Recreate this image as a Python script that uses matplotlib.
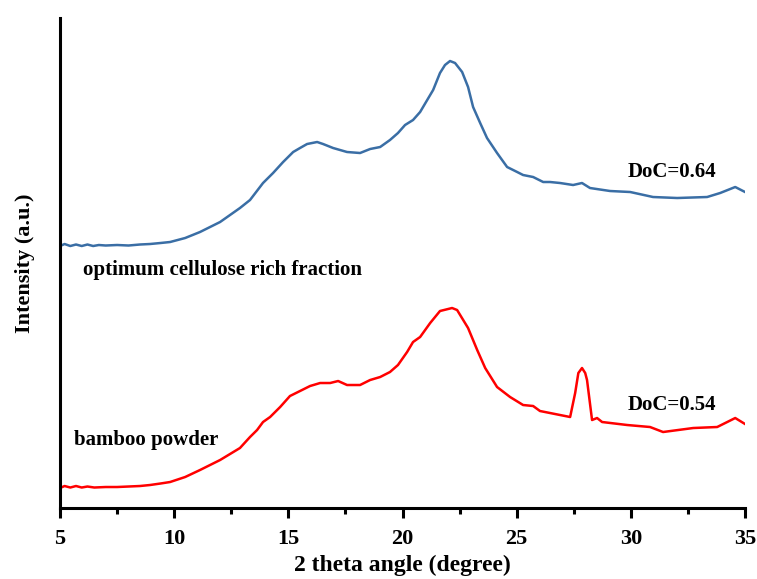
#!/usr/bin/env python3
"""
Plot XRD patterns of bamboo powder and the optimum cellulose rich fraction.

The two patterns are stacked (offset) on one intensity axis and labelled
with their degree of crystallinity (DoC).
"""

import matplotlib
matplotlib.use('Agg')
import matplotlib.pyplot as plt
from matplotlib.ticker import MultipleLocator

# Optimum cellulose rich fraction (offset pattern, a.u.)
cellulose_theta = [5.0, 5.2, 5.45, 5.7, 5.95, 6.2, 6.45, 6.7, 7.0, 7.5, 8.0, 8.5,
                   8.94, 9.4, 9.82, 10.48, 11.13, 12.01, 12.88, 13.32, 13.89,
                   14.33, 14.77, 15.21, 15.51, 15.82, 16.26, 16.52, 16.96, 17.57,
                   18.14, 18.58, 19.02, 19.45, 19.8, 20.11, 20.46, 20.77, 21.08,
                   21.34, 21.64, 21.86, 22.08, 22.3, 22.61, 22.87, 23.09, 23.4,
                   23.7, 24.14, 24.58, 25.02, 25.28, 25.72, 26.16, 26.46, 26.9,
                   27.47, 27.86, 28.21, 29.09, 29.97, 30.97, 32.03, 33.34, 33.91,
                   34.57, 35.0]
cellulose_intensity = [262, 264, 262, 263.5, 262, 263.5, 262, 263, 262.5, 263,
                       262.5, 263.5, 264, 265, 266, 270, 276, 286, 300, 308, 325,
                       335, 346, 356, 360, 364, 366, 364, 360, 356, 355, 359, 361,
                       368, 375, 383, 388, 396, 408, 418, 435, 443, 447, 445, 436,
                       421, 401, 385, 370, 355, 341, 336, 333, 331, 326, 326, 325,
                       323, 325, 320, 317, 316, 311, 310, 311, 315, 321, 316]

# Raw bamboo powder
bamboo_theta = [5.0, 5.2, 5.45, 5.7, 5.95, 6.2, 6.5, 7.0, 7.5, 8.0, 8.5, 8.94,
                9.4, 9.82, 10.48, 11.13, 12.01, 12.88, 13.32, 13.63, 13.89, 14.2,
                14.64, 15.07, 15.51, 15.95, 16.39, 16.83, 17.18, 17.57, 18.14,
                18.58, 19.02, 19.45, 19.8, 20.2, 20.46, 20.77, 21.21, 21.64,
                22.17, 22.39, 22.87, 23.27, 23.62, 24.14, 24.71, 25.28, 25.72,
                26.02, 26.46, 26.9, 27.34, 27.56, 27.7, 27.86, 28.0, 28.08, 28.3,
                28.52, 28.74, 29.84, 30.84, 31.41, 32.73, 33.78, 34.22, 34.57,
                35.0]
bamboo_intensity = [20, 22, 20.5, 22, 20.5, 21.5, 20.5, 21, 21, 21.5, 22, 23,
                    24.5, 26, 31, 38, 48, 60, 71, 78, 86, 91, 101, 112, 117, 122,
                    125, 125, 127, 123, 123, 128, 131, 136, 143, 156, 166, 171,
                    185, 197, 200, 198, 180, 158, 140, 121, 111, 103, 102, 97, 95,
                    93, 91, 115, 135, 140, 135, 128, 88, 90, 86, 83, 81, 76, 80,
                    81, 86, 90, 84]

curve_labels = ['optimum cellulose rich fraction', 'bamboo powder']
doc_labels = ['DoC=0.64', 'DoC=0.54']

x_ticks = [5, 10, 15, 20, 25, 30, 35]


def plot_xrd(output_file='out.png'):
    plt.rcParams['font.family'] = ['Liberation Serif', 'DejaVu Serif']
    plt.rcParams['font.weight'] = 'bold'

    fig = plt.figure(figsize=(7.57, 5.79), dpi=100)
    ax = fig.add_axes([0.0793, 0.1226, 0.9049, 0.8463])

    ax.plot(cellulose_theta, cellulose_intensity, color='#3a6ea5', linewidth=1.8,
            solid_joinstyle='round')
    ax.plot(bamboo_theta, bamboo_intensity, color='#ff0000', linewidth=1.8,
            solid_joinstyle='round')

    # Sample names and crystallinity labels
    ax.text(6.0, 238, curve_labels[0], fontsize=15, fontweight='bold', va='center')
    ax.text(5.6, 68, curve_labels[1], fontsize=15, fontweight='bold', va='center')
    ax.text(29.85, 336, doc_labels[0], fontsize=15, fontweight='bold', va='center')
    ax.text(29.85, 103, doc_labels[1], fontsize=15, fontweight='bold', va='center')

    ax.set_xlim(5, 35)
    ax.set_ylim(0, 490)
    ax.set_xticks(x_ticks)
    ax.xaxis.set_minor_locator(MultipleLocator(2.5))
    ax.set_yticks([])

    ax.spines['top'].set_visible(False)
    ax.spines['right'].set_visible(False)
    ax.spines['left'].set_linewidth(2.2)
    ax.spines['bottom'].set_linewidth(2.2)

    ax.tick_params(axis='x', which='major', direction='out', length=7, width=2.2,
                   labelsize=16, pad=8)
    ax.tick_params(axis='x', which='minor', direction='out', length=4, width=2.2)
    for lbl in ax.get_xticklabels():
        lbl.set_fontweight('bold')

    ax.set_xlabel('2 theta angle (degree)', fontsize=17, fontweight='bold', labelpad=4)
    ax.set_ylabel('Intensity (a.u.)', fontsize=16, fontweight='bold', labelpad=18)

    fig.savefig(output_file, dpi=100)
    plt.close(fig)


if __name__ == '__main__':
    plot_xrd()
